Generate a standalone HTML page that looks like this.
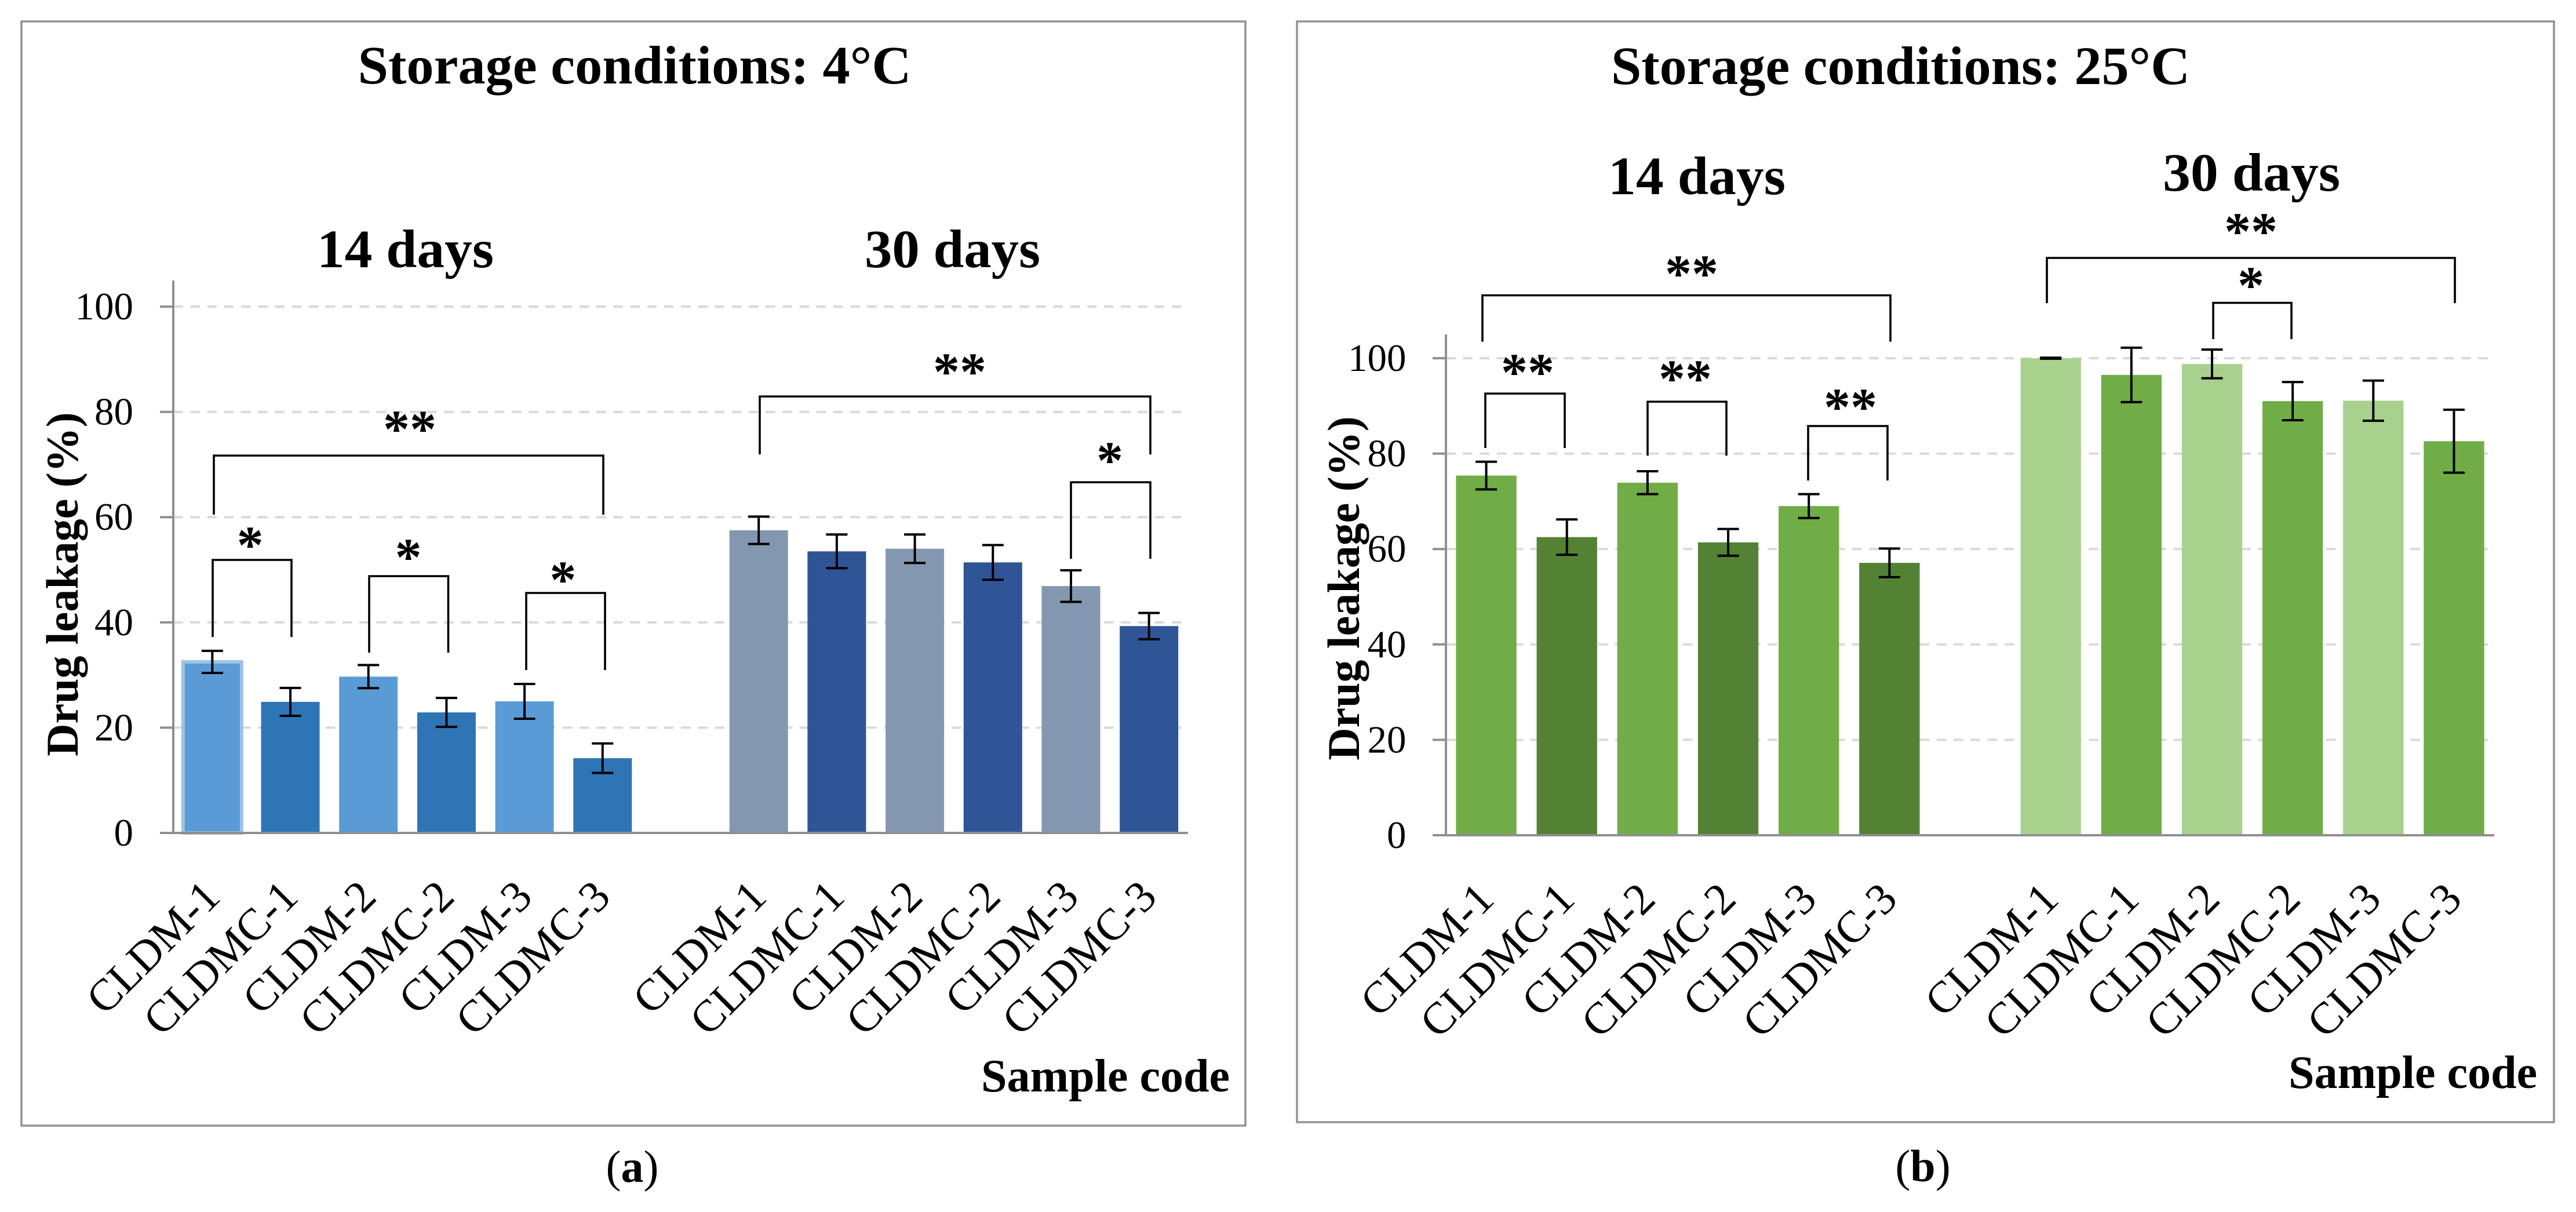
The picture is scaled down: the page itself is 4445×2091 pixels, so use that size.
<!DOCTYPE html>
<html>
<head>
<meta charset="utf-8">
<title>Drug leakage during storage</title>
<style>
html,body{margin:0;padding:0;background:#fff;}
svg{display:block;}
text{font-family:"Liberation Serif",serif;fill:#000;}
.b{font-weight:bold;}
.bracket{fill:none;stroke:#000;stroke-width:3.6;}
.star{font-weight:bold;font-size:92px;text-anchor:middle;}
</style>
</head>
<body>
<svg id="fig" xmlns="http://www.w3.org/2000/svg" width="4445" height="2091" viewBox="0 0 4445 2091">
  <rect width="4445" height="2091" fill="#fff"/>

  <g id="panel-a">
    <rect x="37" y="37" width="2112" height="1905" fill="#fff" stroke="#929292" stroke-width="3.5"/>
    <text class="b" x="1095" y="144" font-size="93" text-anchor="middle" textLength="955" lengthAdjust="spacingAndGlyphs">Storage conditions: 4°C</text>
    <text class="b" x="699.5" y="461" font-size="93" text-anchor="middle" textLength="305" lengthAdjust="spacingAndGlyphs">14 days</text>
    <text class="b" x="1643.5" y="461" font-size="93" text-anchor="middle" textLength="303" lengthAdjust="spacingAndGlyphs">30 days</text>
    <text class="b" transform="translate(134,1008) rotate(-90)" font-size="78" text-anchor="middle">Drug leakage (%)</text>
    <text class="b" x="1693" y="1883" font-size="80" textLength="429" lengthAdjust="spacingAndGlyphs">Sample code</text>
    <g id="plot-a"></g>
    <g>
      <path class="bracket" d="M369 888V786H1041V888"/>
      <text class="star" x="707" y="771">**</text>
      <path class="bracket" d="M367 1099V966H503V1099"/>
      <text class="star" x="431.6" y="971">*</text>
      <path class="bracket" d="M637 1126V994H773.5V1126"/>
      <text class="star" x="704.6" y="992">*</text>
      <path class="bracket" d="M908 1156V1023H1044V1156"/>
      <text class="star" x="971.4" y="1031">*</text>
      <path class="bracket" d="M1311 784V684H1985V784"/>
      <text class="star" x="1656" y="672">**</text>
      <path class="bracket" d="M1848 964V832H1985V964"/>
      <text class="star" x="1915" y="825">*</text>
    </g>
    <text x="1091" y="2039" font-size="78" text-anchor="middle">(<tspan class="b">a</tspan>)</text>
  </g>

  <g id="panel-b">
    <rect x="2238" y="37" width="2169" height="1899" fill="#fff" stroke="#929292" stroke-width="3.5"/>
    <text class="b" x="3279.5" y="145" font-size="93" text-anchor="middle" textLength="999" lengthAdjust="spacingAndGlyphs">Storage conditions: 25°C</text>
    <text class="b" x="2928" y="335" font-size="93" text-anchor="middle" textLength="306" lengthAdjust="spacingAndGlyphs">14 days</text>
    <text class="b" x="3885" y="329" font-size="93" text-anchor="middle" textLength="306" lengthAdjust="spacingAndGlyphs">30 days</text>
    <text class="b" transform="translate(2345,1015) rotate(-90)" font-size="78" text-anchor="middle">Drug leakage (%)</text>
    <text class="b" x="3949" y="1877" font-size="80" textLength="429" lengthAdjust="spacingAndGlyphs">Sample code</text>
    <g id="plot-b"></g>
    <g>
      <path class="bracket" d="M2558 589.5V509.5H3262V589.5"/>
      <text class="star" x="2919" y="503">**</text>
      <path class="bracket" d="M2563 773V679H2700V773"/>
      <text class="star" x="2636" y="673">**</text>
      <path class="bracket" d="M2843 786V693H2979V786"/>
      <text class="star" x="2908" y="684">**</text>
      <path class="bracket" d="M3120 829V735H3257V829"/>
      <text class="star" x="3193" y="733">**</text>
      <path class="bracket" d="M3532 523V445H4236V523"/>
      <text class="star" x="3884" y="430">**</text>
      <path class="bracket" d="M3819 585V522.5H3954V585"/>
      <text class="star" x="3884" y="523">*</text>
    </g>
    <text x="3318" y="2038" font-size="78" text-anchor="middle">(<tspan class="b">b</tspan>)</text>
  </g>
</svg>
<script>
// ---- chart data ----
const categories = ["CLDM-1", "CLDMC-1", "CLDM-2", "CLDMC-2", "CLDM-3", "CLDMC-3"];
const yTicks = [0, 20, 40, 60, 80, 100];

const a14Values = [32.5, 24.9, 29.7, 22.9, 25.0, 14.2];
const a14Errors = [2.1, 2.65, 2.2, 2.75, 3.3, 2.8];
const a30Values = [57.5, 53.5, 54.0, 51.4, 46.9, 39.3];
const a30Errors = [2.6, 3.2, 2.7, 3.3, 3.0, 2.5];

const b14Values = [75.4, 62.5, 73.9, 61.4, 69.0, 57.1];
const b14Errors = [2.9, 3.7, 2.4, 2.8, 2.5, 3.0];
const b30Values = [100, 96.5, 98.8, 91.0, 91.1, 82.6];
const b30Errors = [0.1, 5.7, 3.0, 4.0, 4.2, 6.6];

const NS = "http://www.w3.org/2000/svg";
function mk(parent, tag, attrs) {
  const el = document.createElementNS(NS, tag);
  for (const k in attrs) el.setAttribute(k, attrs[k]);
  parent.appendChild(el);
  return el;
}

function drawChart(cfg) {
  const root = document.getElementById(cfg.id);
  const band = (cfg.axisRight - cfg.axisX) / 13;
  const unit = (cfg.yZero - cfg.yHundred) / 100;
  const xScale = function (slot) { return cfg.axisX + band * (slot + 0.5); };
  const yScale = function (v) { return cfg.yZero - v * unit; };
  const barW = band * 0.75;

  // gridlines
  yTicks.forEach(function (t) {
    if (t === 0) return;
    const g = mk(root, "line", { x1: cfg.axisX, x2: cfg.axisRight, y1: yScale(t), y2: yScale(t), stroke: "#D9D9D9", "stroke-width": 4, "stroke-dasharray": "16.7 12.5", "stroke-dashoffset": 0 });
    
    
  });

  // bars
  const groups = [
    { start: 0, values: cfg.v14, errors: cfg.e14, light: cfg.c14[0], dark: cfg.c14[1] },
    { start: 7, values: cfg.v30, errors: cfg.e30, light: cfg.c30[0], dark: cfg.c30[1] }
  ];
  groups.forEach(function (gr) {
    gr.values.forEach(function (v, i) {
      const cx = xScale(gr.start + i);
      const attrs = { x: cx - barW / 2, y: yScale(v), width: barW, height: cfg.yZero - yScale(v), fill: i % 2 ? gr.dark : gr.light };
      if (cfg.highlight && gr.start === 0 && i === 0) {
        attrs.stroke = "#9DC3E6";
        attrs["stroke-width"] = 6;
      }
      const bar = mk(root, "rect", attrs);
      
      
    });
  });

  // axes and ticks
  const yAxis = mk(root, "line", { x1: cfg.axisX, x2: cfg.axisX, y1: cfg.axisTop, y2: cfg.yZero + 2, stroke: "#8F8F8F", "stroke-width": 4 });
  
  
  const xAxis = mk(root, "line", { x1: cfg.axisX - 23, x2: cfg.axisRight, y1: cfg.yZero, y2: cfg.yZero, stroke: "#8F8F8F", "stroke-width": 4 });
  
  

  yTicks.forEach(function (t) {
    const tk = mk(root, "line", { x1: cfg.axisX - 23, x2: cfg.axisX, y1: yScale(t), y2: yScale(t), stroke: "#8F8F8F", "stroke-width": 4 });
    
    
    const lb = mk(root, "text", { x: cfg.labelRight, y: yScale(t) + 22, "font-size": 67, "text-anchor": "end" });
    
    
    lb.textContent = t;
  });

  // error bars and category labels
  groups.forEach(function (gr) {
    gr.values.forEach(function (v, i) {
      const cx = xScale(gr.start + i);
      const e = gr.errors[i];
      const hi = yScale(v + e), lo = yScale(v - e);
      const eb = mk(root, "path", { d: "M" + (cx - 18.5) + " " + hi + "H" + (cx + 18.5) + "M" + cx + " " + hi + "V" + lo + "M" + (cx - 18.5) + " " + lo + "H" + (cx + 18.5), fill: "none", stroke: "#000", "stroke-width": 4 });
      
      

      const tx = cx + 17, ty = cfg.yZero + 114;
      const lab = mk(root, "text", { transform: "translate(" + tx + "," + ty + ") rotate(-45)", "font-size": 77, "text-anchor": "end" });
      
      
      lab.textContent = categories[i];
    });
  });
}

drawChart({
  id: "plot-a",
  axisX: 299, axisRight: 2050, axisTop: 484, yZero: 1437, yHundred: 529, labelRight: 230,
  v14: a14Values, e14: a14Errors, v30: a30Values, e30: a30Errors,
  c14: ["#5B9BD5", "#2E75B6"], c30: ["#8497B0", "#2F5597"], highlight: true
});
drawChart({
  id: "plot-b",
  axisX: 2495, axisRight: 4304, axisTop: 577, yZero: 1441, yHundred: 618, labelRight: 2426.5,
  v14: b14Values, e14: b14Errors, v30: b30Values, e30: b30Errors,
  c14: ["#70AD47", "#548235"], c30: ["#A9D18E", "#70AD47"], highlight: false
});
</script>
</body>
</html>
